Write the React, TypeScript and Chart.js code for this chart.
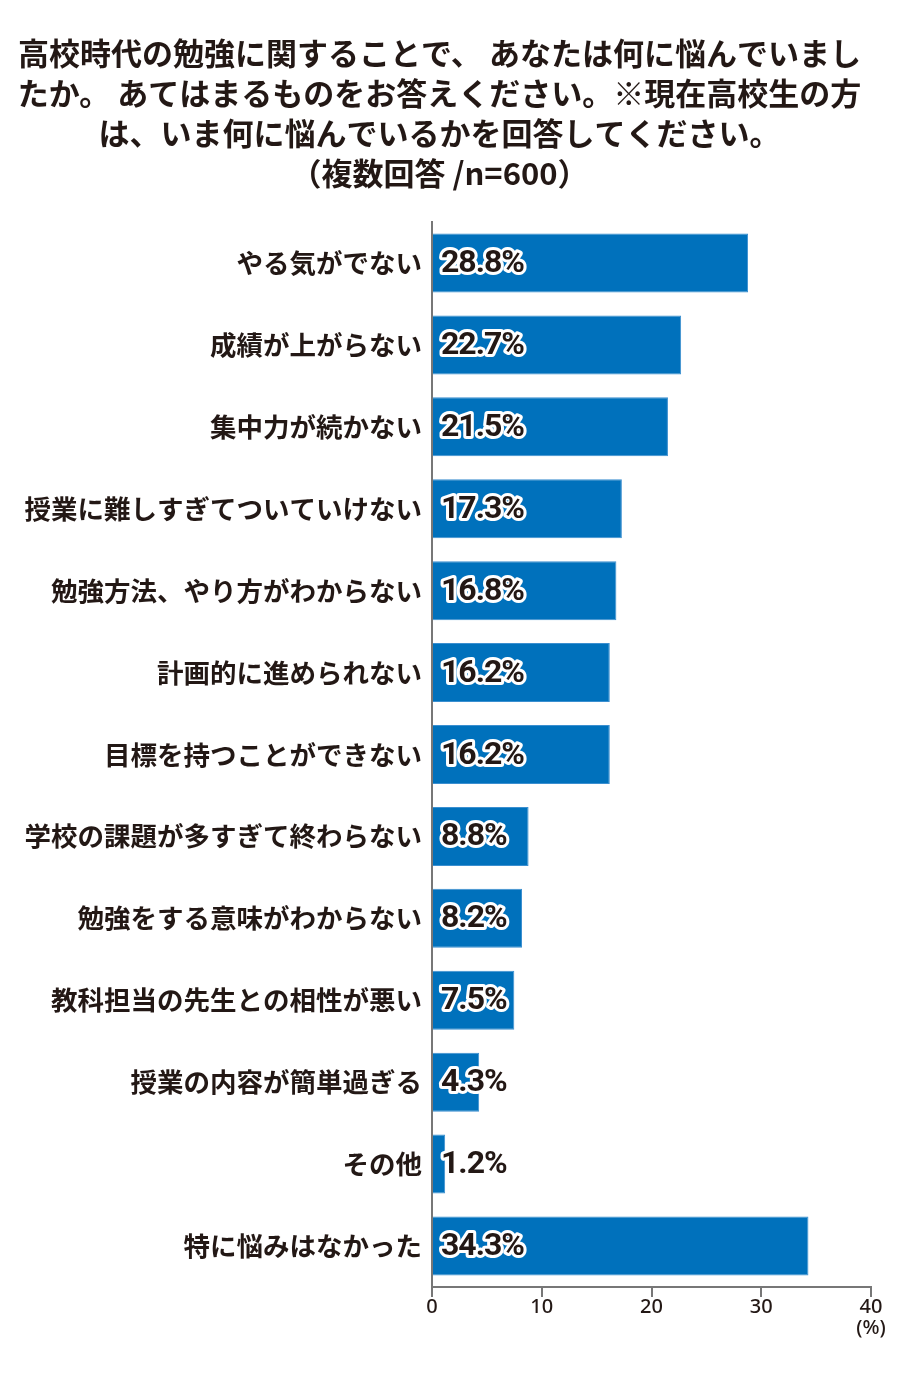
import React, { useEffect, useRef } from "react";
import { Chart, registerables } from "chart.js";

Chart.register(...registerables);

const titleLines = [
  "高校時代の勉強に関することで、 あなたは何に悩んでいまし",
  "たか。 あてはまるものをお答えください。※現在高校生の方",
  "は、いま何に悩んでいるかを回答してください。",
  "（複数回答 /n=600）",
];

const categories = [
  "やる気がでない",
  "成績が上がらない",
  "集中力が続かない",
  "授業に難しすぎてついていけない",
  "勉強方法、やり方がわからない",
  "計画的に進められない",
  "目標を持つことができない",
  "学校の課題が多すぎて終わらない",
  "勉強をする意味がわからない",
  "教科担当の先生との相性が悪い",
  "授業の内容が簡単過ぎる",
  "その他",
  "特に悩みはなかった",
];

const values = [28.8, 22.7, 21.5, 17.3, 16.8, 16.2, 16.2, 8.8, 8.2, 7.5, 4.3, 1.2, 34.3];

const xTicks = [0, 10, 20, 30, 40];
const unitLabel = "(%)";

const JP = '"Noto Sans CJK JP", "Noto Sans", sans-serif';
const DARK = "#231815";
const BAR = "#0071bc";

const valueLabelPlugin = {
  id: "valueLabels",
  afterDatasetsDraw(chart: any) {
    const ctx = chart.ctx;
    const meta = chart.getDatasetMeta(0);
    const x0 = chart.scales.x.getPixelForValue(0);
    ctx.save();
    ctx.font = 'bold 32px "Liberation Sans Narrow", "Roboto", sans-serif';
    try {
      (ctx as any).letterSpacing = "-1px";
    } catch (e) {}
    ctx.textAlign = "left";
    ctx.textBaseline = "middle";
    ctx.lineJoin = "round";
    meta.data.forEach((bar: any, i: number) => {
      const text = values[i].toFixed(1) + "%";
      const x = x0 + 9;
      const y = bar.y + 1;
      ctx.strokeStyle = "#ffffff";
      ctx.lineWidth = 6;
      ctx.strokeText(text, x, y);
      ctx.fillStyle = DARK;
      ctx.fillText(text, x, y);
    });
    ctx.restore();
  },
};

export default function App() {
  const ref = useRef<HTMLCanvasElement | null>(null);

  useEffect(() => {
    if (!ref.current) return;
    const chart = new Chart(ref.current, {
      type: "bar",
      data: {
        labels: categories,
        datasets: [
          {
            data: values,
            backgroundColor: BAR,
            borderColor: "#3b8fd0",
            borderWidth: 1,
            barPercentage: 0.72,
            categoryPercentage: 1,
          },
        ],
      },
      options: {
        indexAxis: "y",
        responsive: false,
        animation: false,
        layout: { padding: { left: 0, right: 21, top: 0, bottom: 0 } },
        plugins: {
          legend: { display: false },
          tooltip: { enabled: false },
          title: {
            display: true,
            text: titleLines,
            color: DARK,
            font: { family: JP, size: 31, weight: "bold", lineHeight: 40 / 31 },
            padding: { top: 25, bottom: 29 },
          },
        },
        scales: {
          x: {
            min: 0,
            max: 40,
            afterBuildTicks(scale: any) {
              scale.ticks = xTicks.map((v) => ({ value: v }));
            },
            afterFit(scale: any) {
              scale.height = 81;
              scale.paddingLeft = 0;
              scale.paddingRight = 0;
            },
            grid: {
              drawOnChartArea: false,
              drawTicks: true,
              tickLength: 10,
              color: "#777777",
              lineWidth: 2,
            },
            border: { display: true, color: "#777777", width: 2 },
            ticks: {
              padding: 0,
              color: DARK,
              font: { family: '"Noto Sans", sans-serif', size: 20, weight: "500", lineHeight: 1.05 },
              callback: (v: any) => (v === 40 ? ["40", unitLabel] : String(v)),
            },
          },
          y: {
            afterFit(scale: any) {
              scale.width = 424;
            },
            grid: { display: true, drawOnChartArea: false, drawTicks: false },
            border: { display: true, color: "#777777", width: 2 },
            ticks: {
              padding: 10,
              color: DARK,
              font: { family: JP, size: 26.5, weight: "bold" },
            },
          },
        },
      },
      plugins: [valueLabelPlugin],
    });
    return () => chart.destroy();
  }, []);

  return (
    <div style={{ width: 884, height: 1360 }}>
      <canvas ref={ref} width={884} height={1360} style={{ display: "block" }} />
    </div>
  );
}
